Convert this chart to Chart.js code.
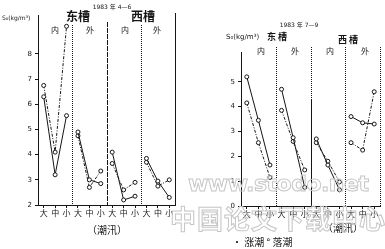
<!DOCTYPE html>
<html><head><meta charset="utf-8">
<script src="https://cdn.jsdelivr.net/npm/chart.js@4"></script>
<style>
html,body{margin:0;padding:0;background:#fff;width:385px;height:249px;overflow:hidden;position:relative}
#l{position:absolute;left:0;top:0}
#r{position:absolute;left:190px;top:0}
.wm{position:absolute;white-space:nowrap;color:rgba(0,0,0,0);-webkit-text-stroke:1px #c6c6c6;pointer-events:none;line-height:1}
#wm1{left:188px;top:171px;font:bold 22px "DejaVu Sans";letter-spacing:-0.5px}
#wm2{left:170px;top:199px;font:bold 26px "Noto Sans CJK SC";letter-spacing:1px}
</style></head><body>
<canvas id="l" width="190" height="249"></canvas>
<canvas id="r" width="195" height="249"></canvas>
<div class="wm" id="wm1">www.stodo.net</div>
<div class="wm" id="wm2">中国论文下载中心</div>
<script>
const tideLevels = ['大','中','小'];
const groupNames = ['东槽内','东槽外','西槽内','西槽外'];
const xLabels = groupNames.flatMap(() => tideLevels);
const floodAprJun = [6.3, 3.2, 5.55, 4.9, 3.0, 2.85, 4.1, 2.2, 2.35, 3.85, 2.95, 2.3];
const ebbAprJun   = [6.75, 4.1, 9.1, 4.75, 2.7, 3.35, 3.65, 2.6, 2.9, 3.7, 2.75, 3.0];
const floodJulSep = [5.2, 3.45, 1.65, 4.7, 2.75, 0.75, 2.7, 1.65, 0.65, 3.6, 3.35, 3.3];
const ebbJulSep   = [4.15, 2.55, 1.15, 3.85, 2.6, 1.45, 2.55, 1.8, 0.97, 2.55, 2.25, 4.6];
const yTicksAprJun = [2, 3, 4, 5, 6, 7, 8];
const yTicksJulSep = [0, 1, 2, 3, 4, 5];
const seriesNames = ['涨潮', '落潮'];
const groupEnds = [2, 5, 8];

const INK = '#151515';
const CJK = '"Noto Sans CJK SC"';

function ds(label, data, dashed) {
  return {
    label, data,
    borderColor: INK, borderWidth: 1,
    borderDash: dashed ? [3, 1.5, 1, 1.5] : [],
    pointRadius: 2, pointBorderWidth: 1,
    pointBackgroundColor: '#fff', pointBorderColor: INK,
    tension: 0,
    segment: { borderColor: c => groupEnds.includes(c.p0DataIndex) ? 'rgba(0,0,0,0)' : INK }
  };
}

function decoPlugin(o) {
  return {
    id: 'deco',
    beforeDatasetsDraw(chart) {
      const { ctx, chartArea: a, scales: { x } } = chart;
      ctx.save();
      ctx.strokeStyle = INK; ctx.lineWidth = 1;
      o.dividers.forEach(d => {
        let px = d.after === 'end' ? a.right : (x.getPixelForValue(d.after) + x.getPixelForValue(d.after + 1)) / 2;
        px = Math.round(px) + 0.5;
        const parts = d.parts || [{ from: d.top, to: 'b', dash: d.dash }];
        parts.forEach(p => {
          ctx.setLineDash(p.dash);
          ctx.beginPath(); ctx.moveTo(px, p.from); ctx.lineTo(px, p.to === 'b' ? a.bottom : p.to); ctx.stroke();
        });
      });
      ctx.setLineDash([]);
      ctx.beginPath(); ctx.moveTo(Math.round(a.left) + 0.5, o.axisTop); ctx.lineTo(Math.round(a.left) + 0.5, a.top); ctx.stroke();
      ctx.restore();
    },
    afterDraw(chart) {
      const { ctx } = chart;
      ctx.save();
      ctx.fillStyle = INK; ctx.textBaseline = 'middle';
      o.texts.forEach(t => {
        ctx.font = t.font; ctx.textAlign = t.align || 'center';
        ctx.fillText(t.s, t.x - o.offX, t.y);
      });
      ctx.restore();
    }
  };
}

function makeChart(id, flood, ebb, yTicks, ymin, ymax, yWidth, pad, deco) {
  return new Chart(document.getElementById(id), {
    type: 'line',
    data: { labels: xLabels, datasets: [ds(seriesNames[0], flood, false), ds(seriesNames[1], ebb, true)] },
    options: {
      responsive: false, animation: false, devicePixelRatio: 1,
      layout: { padding: pad },
      plugins: { legend: { display: false }, tooltip: { enabled: false }, title: { display: false } },
      scales: {
        x: {
          type: 'category', offset: true,
          grid: { display: true, drawOnChartArea: false, offset: false, tickLength: 3, color: INK },
          border: { display: true, color: INK, width: 1 },
          ticks: { color: INK, font: { family: 'Noto Sans CJK SC', size: 8 }, padding: 0, maxRotation: 0, autoSkip: false },
          afterFit: s => { s.height = 14; }
        },
        y: {
          type: 'linear', min: ymin, max: ymax,
          afterBuildTicks: s => { s.ticks = yTicks.map(v => ({ value: v })); },
          grid: { display: true, drawOnChartArea: false, tickLength: 3, color: INK },
          border: { display: true, color: INK, width: 1 },
          ticks: { color: INK, font: { family: 'DejaVu Sans', size: 7 }, padding: 3 },
          afterFit: s => { s.width = yWidth; }
        }
      }
    },
    plugins: [decoPlugin(deco)]
  });
}

makeChart('l', floodAprJun, ebbAprJun, yTicksAprJun, 2, 9.35, 38, { top: 20, right: 15, bottom: 30, left: 0 }, {
  offX: 0, axisTop: 15,
  dividers: [
    { after: 2, top: 25, dash: [1, 1] },
    { after: 5, top: 22, dash: [5, 1] },
    { after: 8, top: 25, dash: [1, 1] },
    { after: 'end', top: 13, dash: [] }
  ],
  texts: [
    { s: '1983 年 4—6', x: 112, y: 7, font: '6px "DejaVu Sans", ' + CJK },
    { s: 'S₀(kg/m³)', x: 2, y: 18, align: 'left', font: '6px "DejaVu Sans"' },
    { s: '东槽', x: 78, y: 16, font: 'bold 12px ' + CJK },
    { s: '西槽', x: 143, y: 16, font: 'bold 12px ' + CJK },
    { s: '内', x: 55, y: 30, font: '8px ' + CJK },
    { s: '外', x: 90, y: 30, font: '8px ' + CJK },
    { s: '内', x: 125, y: 30, font: '8px ' + CJK },
    { s: '外', x: 157, y: 30, font: '8px ' + CJK },
    { s: '（潮汛）', x: 107, y: 230, font: '10px ' + CJK }
  ]
});

makeChart('r', floodJulSep, ebbJulSep, yTicksJulSep, 0, 6.2, 51, { top: 52, right: 4, bottom: 29, left: 0 }, {
  offX: 190, axisTop: 52,
  dividers: [
    { after: 2, top: 47, dash: [1, 1] },
    { after: 5, parts: [{ from: 47, to: 100, dash: [1, 1] }, { from: 100, to: 'b', dash: [] }] },
    { after: 8, top: 47, dash: [1, 1] },
    { after: 'end', top: 47, dash: [1, 1] }
  ],
  texts: [
    { s: '1983 年 7—9', x: 299, y: 25, font: '6px "DejaVu Sans", ' + CJK },
    { s: 'S₀(kg/m³)', x: 226, y: 37, align: 'left', font: '7px "DejaVu Sans"' },
    { s: '东 槽', x: 277, y: 37, font: 'bold 9px ' + CJK },
    { s: '西 槽', x: 348, y: 40, font: 'bold 9px ' + CJK },
    { s: '内', x: 261, y: 51, font: '8px ' + CJK },
    { s: '外', x: 295, y: 51, font: '8px ' + CJK },
    { s: '内', x: 330, y: 51, font: '8px ' + CJK },
    { s: '外', x: 365, y: 51, font: '8px ' + CJK },
    { s: '（潮汛）', x: 343, y: 228, font: '10px ' + CJK },
    { s: '· ' + seriesNames[0] + ' ° ' + seriesNames[1], x: 232, y: 242, align: 'left', font: '10px ' + CJK }
  ]
});
</script>
</body></html>
